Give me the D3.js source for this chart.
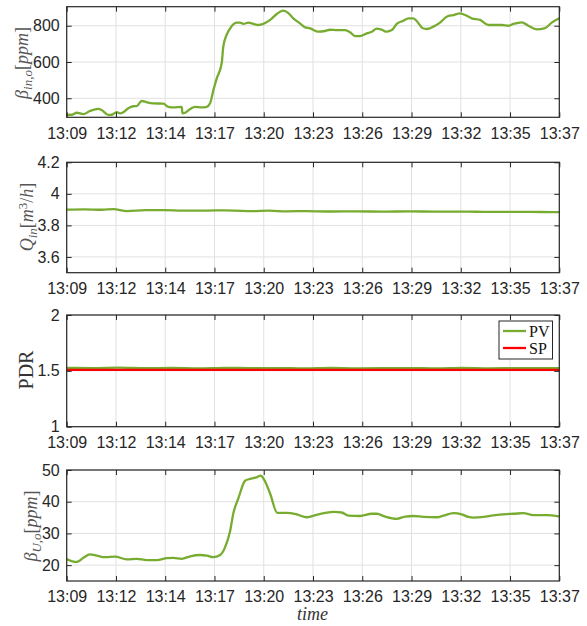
<!DOCTYPE html>
<html>
<head>
<meta charset="utf-8">
<script src="https://cdn.jsdelivr.net/npm/d3@7"></script>
<style>
  html, body { margin: 0; padding: 0; background: #fff; }
  svg { display: block; }
</style>
</head>
<body>
<svg id="chart" width="587" height="626"></svg>
<script>
// ---------------- DATA ----------------
// time axis in minutes from 13:09
const xTickLabels = ["13:09","13:12","13:14","13:17","13:20","13:23","13:26","13:29","13:32","13:35","13:37"];

const betaInTime = [0,0.3,0.57,0.95,1.32,1.8,1.99,2.37,2.56,2.84,3.03,3.22,3.5,3.79,3.98,4.26,4.55,4.92,5.49,5.78,6.06,6.54,6.58,6.73,7.02,7.29,7.67,7.96,8.15,8.34,8.53,8.81,8.9,9.09,9.38,9.66,9.85,10.04,10.33,10.61,10.89,11.18,11.56,11.94,12.31,12.6,12.88,13.26,13.55,13.83,14.3,14.68,14.97,15.35,15.82,16.11,16.39,16.67,17.06,17.34,17.62,17.91,18.19,18.48,18.76,19.14,19.42,19.71,19.93,20.24,20.47,20.84,21.22,21.6,21.98,22.36,22.64,23.02,23.5,23.97,24.35,24.73,25.11,25.39,25.87,26.24,26.72,27.19,27.57,28];
const betaInValue = [308,309,320,313,330,342,335,308,309,324,317,323,345,356,357,385,378,372,370,353,350,353,317,320,341,353,350,353,372,446,510,593,684,749,798,817,817,810,817,810,804,810,832,865,883,870,841,813,791,786,767,771,778,776,776,764,743,743,758,767,784,778,767,776,810,828,841,841,822,786,782,795,817,850,859,868,859,841,832,804,804,804,800,810,819,800,780,787,817,841];

const qInTime = [0,1,2,2.65,3.42,4.5,5.5,6.5,7.5,8.5,9.5,10.5,11.5,12.5,13.5,15,16.5,18,19.5,21,22.5,24,25.5,27,28];
const qInValue = [3.900,3.902,3.899,3.903,3.891,3.897,3.897,3.894,3.893,3.895,3.894,3.890,3.893,3.889,3.890,3.888,3.889,3.887,3.889,3.887,3.887,3.886,3.886,3.885,3.884];

const pdrTime = [0,1.5,3,4.5,6,7.5,9,10.5,12,13.5,15,16.5,18,19.5,21,22.5,24,25.5,27,28];
const pdrPV = [1.527,1.525,1.528,1.524,1.526,1.523,1.527,1.524,1.525,1.522,1.526,1.523,1.524,1.525,1.522,1.526,1.523,1.525,1.524,1.525];
const pdrSP = [1.508,1.508,1.508,1.508,1.508,1.508,1.508,1.508,1.508,1.508,1.508,1.508,1.508,1.508,1.508,1.508,1.508,1.508,1.508,1.508];

const betaUTime = [0,0.28,0.57,0.95,1.32,1.71,2.18,2.75,3.41,3.98,4.55,5.12,5.69,6.06,6.54,7.02,7.58,7.96,8.34,8.72,9.0,9.28,9.47,9.76,10.14,10.42,10.8,11.03,11.22,11.56,11.97,12.51,13.08,13.64,14.3,15.16,15.63,16.01,16.67,17.34,17.62,18.1,18.76,19.23,19.71,20.28,21.04,21.41,21.98,22.46,22.83,23.12,23.69,24.25,25.01,25.39,25.96,26.53,27.29,28];
const betaUValue = [21.9,21.3,21.0,22.3,23.4,23.0,22.5,22.7,21.8,22.0,21.6,21.6,22.2,22.3,22.0,22.8,23.2,23.0,22.5,23.2,25.6,30.5,36.3,41.1,46.6,47.2,47.7,48.2,47.0,42.6,36.5,36.5,36.0,35.1,36.0,36.8,36.6,35.6,35.5,36.2,36.2,35.3,34.6,35.3,35.5,35.2,35.1,35.6,36.4,36.0,35.2,35.0,35.2,35.7,36.1,36.2,36.4,35.8,35.8,35.4];

// ---------------- LAYOUT ----------------
const svg = d3.select("#chart");
const L = 66.7, R = 559.3;
const GREEN = "#77AC30", RED = "#FF0000", AX = "#262626", GRID = "#e1e1e1";
const tickFont = "'Liberation Sans', Arial, Helvetica, sans-serif";
const serif = "'Liberation Serif', 'Times New Roman', serif";

const x = d3.scaleLinear().domain([0, 28]).range([L, R]);
const xTickVals = d3.range(11).map(i => i * 2.8);

const panels = [
  {top: 6.7, bottom: 117.3, domain: [295, 905], ticks: [400, 600, 800], fmt: d => d, series: [{t: betaInTime, v: betaInValue, c: GREEN, w: 2.3}]},
  {top: 162.3, bottom: 272.7, domain: [3.5, 4.2], ticks: [3.6, 3.8, 4, 4.2], fmt: d => String(d), series: [{t: qInTime, v: qInValue, c: GREEN, w: 2.3}]},
  {top: 315, bottom: 426.7, domain: [1, 2], ticks: [1, 1.5, 2], fmt: d => String(d), series: [{t: pdrTime, v: pdrPV, c: GREEN, w: 2.3}, {t: pdrTime, v: pdrSP, c: RED, w: 2.3}]},
  {top: 470, bottom: 581, domain: [15, 50], ticks: [20, 30, 40, 50], fmt: d => d, series: [{t: betaUTime, v: betaUValue, c: GREEN, w: 2.3}]}
];

panels.forEach((p, i) => {
  const y = d3.scaleLinear().domain(p.domain).range([p.bottom, p.top]);
  const g = svg.append("g");

  // grid
  g.append("g").selectAll("line.vx").data(xTickVals).join("line")
    .attr("x1", d => x(d)).attr("x2", d => x(d))
    .attr("y1", p.top).attr("y2", p.bottom)
    .attr("stroke", GRID).attr("stroke-width", 1);
  g.append("g").selectAll("line.hy").data(p.ticks).join("line")
    .attr("x1", L).attr("x2", R)
    .attr("y1", d => y(d)).attr("y2", d => y(d))
    .attr("stroke", GRID).attr("stroke-width", 1);

  // series
  const line = d3.line().x(d => x(d[0])).y(d => y(d[1])).curve(d3.curveMonotoneX);
  const clipId = "clip" + i;
  svg.append("clipPath").attr("id", clipId).append("rect")
    .attr("x", L).attr("y", p.top - 2).attr("width", R - L).attr("height", p.bottom - p.top + 4);
  p.series.forEach(s => {
    g.append("path")
      .datum(s.t.map((t, k) => [t, s.v[k]]))
      .attr("d", line)
      .attr("fill", "none").attr("stroke", s.c).attr("stroke-width", s.w)
      .attr("stroke-linejoin", "round").attr("clip-path", `url(#${clipId})`);
  });

  // axes
  const ax = d3.axisBottom(x).tickValues(xTickVals).tickFormat((d, k) => xTickLabels[k])
    .tickSizeInner(-5).tickSizeOuter(0).tickPadding(10);
  const axT = d3.axisTop(x).tickValues(xTickVals).tickFormat("")
    .tickSizeInner(-5).tickSizeOuter(0);
  const ay = d3.axisLeft(y).tickValues(p.ticks).tickFormat(p.fmt)
    .tickSizeInner(-5).tickSizeOuter(0).tickPadding(7);
  const ayR = d3.axisRight(y).tickValues(p.ticks).tickFormat("")
    .tickSizeInner(-5).tickSizeOuter(0);

  const gb = g.append("g").attr("transform", `translate(0,${p.bottom})`).call(ax);
  const gt = g.append("g").attr("transform", `translate(0,${p.top})`).call(axT);
  const gl = g.append("g").attr("transform", `translate(${L},0)`).call(ay);
  const gr = g.append("g").attr("transform", `translate(${R},0)`).call(ayR);
  [gb, gt, gl, gr].forEach(a => {
    a.select(".domain").remove();
    a.selectAll(".tick line").attr("stroke", AX).attr("stroke-width", 1);
    a.selectAll("text").attr("fill", AX).attr("font-family", tickFont).attr("font-size", 16);
  });

  // box
  g.append("rect").attr("x", L).attr("y", p.top).attr("width", R - L).attr("height", p.bottom - p.top)
    .attr("fill", "none").attr("stroke", AX).attr("stroke-width", 1.2);
});

// ---------------- Y LABELS ----------------
function yLabel(cx, cy, build) {
  const t = svg.append("text")
    .attr("transform", `translate(${cx},${cy}) rotate(-90)`)
    .attr("text-anchor", "middle").attr("dy", "0.35em")
    .attr("font-family", serif).attr("font-size", 18).attr("fill", "#555");
  build(t);
}
yLabel(22, 63, t => {
  t.append("tspan").attr("font-style", "italic").text("β");
  t.append("tspan").attr("font-style", "italic").attr("font-size", 13).attr("dy", 4).text("in,o");
  t.append("tspan").attr("dy", -4).text("[");
  t.append("tspan").attr("font-style", "italic").text("ppm");
  t.append("tspan").text("]");
});
yLabel(27, 217, t => {
  t.append("tspan").attr("font-style", "italic").text("Q");
  t.append("tspan").attr("font-style", "italic").attr("font-size", 13).attr("dy", 4).text("in");
  t.append("tspan").attr("dy", -4).text("[");
  t.append("tspan").attr("font-style", "italic").text("m");
  t.append("tspan").attr("font-size", 13).attr("dy", -6).text("3");
  t.append("tspan").attr("dy", 6).text("/");
  t.append("tspan").attr("font-style", "italic").text("h");
  t.append("tspan").text("]");
});
yLabel(26, 370, t => {
  t.attr("fill", "#333").attr("font-size", 20).text("PDR");
});
yLabel(31, 526, t => {
  t.append("tspan").attr("font-style", "italic").text("β");
  t.append("tspan").attr("font-style", "italic").attr("font-size", 13).attr("dy", 4).text("U,o");
  t.append("tspan").attr("dy", -4).text("[");
  t.append("tspan").attr("font-style", "italic").text("ppm");
  t.append("tspan").text("]");
});

// x label
svg.append("text").attr("x", 312.5).attr("y", 620).attr("text-anchor", "middle")
  .attr("font-family", serif).attr("font-style", "italic").attr("font-size", 18).attr("fill", "#333")
  .text("time");

// ---------------- LEGEND ----------------
const legendItems = [{name: "PV", c: GREEN, w: 2.3}, {name: "SP", c: RED, w: 2.3}];
const lg = svg.append("g");
lg.append("rect").attr("x", 499).attr("y", 321).attr("width", 53.5).attr("height", 38)
  .attr("fill", "#fff").attr("stroke", AX).attr("stroke-width", 1);
legendItems.forEach((d, k) => {
  const yy = 331 + k * 17;
  lg.append("line").attr("x1", 503).attr("x2", 526).attr("y1", yy).attr("y2", yy)
    .attr("stroke", d.c).attr("stroke-width", d.w);
  lg.append("text").attr("x", 529).attr("y", yy + 5.5)
    .attr("font-family", serif).attr("font-size", 16).attr("fill", "#111").text(d.name);
});
</script>
</body>
</html>
